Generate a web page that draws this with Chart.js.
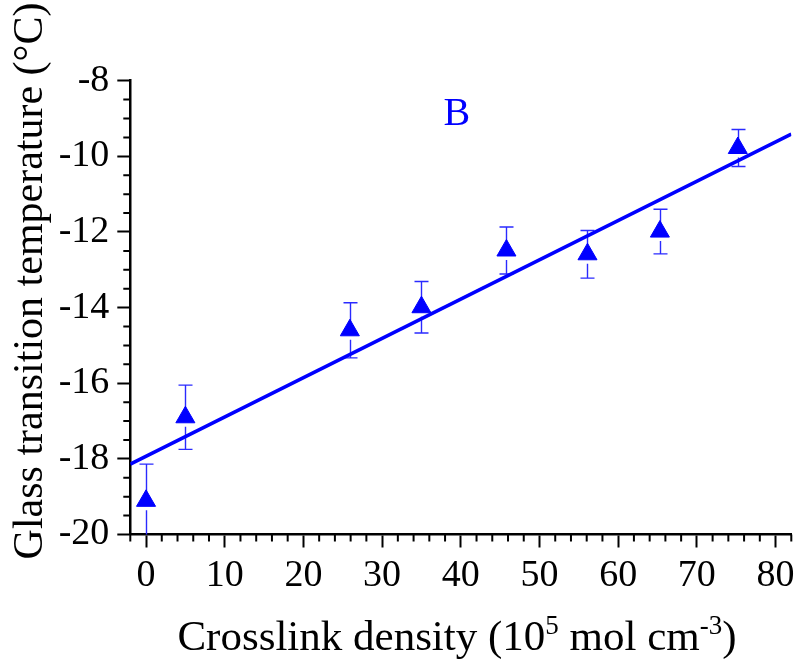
<!DOCTYPE html>
<html>
<head>
<meta charset="utf-8">
<title>Glass transition temperature vs crosslink density</title>
<script src="https://cdn.jsdelivr.net/npm/chart.js@4/dist/chart.umd.min.js"></script>
<style>
  html, body { margin: 0; padding: 0; background: #fff; }
  #tgChart { display: block; }
</style>
</head>
<body>
<canvas id="tgChart" width="797" height="662"></canvas>
<script>
// measured samples: crosslink density vs Tg, with error (+/-)
const densityX = [0, 5.0, 25.9, 35.0, 45.8, 56.1, 65.3, 75.2];
const tgY      = [-19.11, -16.90, -14.60, -13.99, -12.49, -12.59, -11.99, -9.78];
const tgErr    = [0.97, 0.85, 0.73, 0.68, 0.62, 0.63, 0.59, 0.49];

// linear fit, end points
const fitX = [-2, 82];
const fitY = [-18.14, -9.41];

// axes
const xTicks = [0, 10, 20, 30, 40, 50, 60, 70, 80];
const yTicks = [-20, -18, -16, -14, -12, -10, -8];
const xRange = [-2, 82];
const yRange = [-20, -8];

const BLUE  = "#0000ff";
const SERIF = '"Liberation Serif", "Times New Roman", serif';

/* ---------- error bars (drawn under the markers) ---------- */
const errorBars = {
  id: "errorBars",
  beforeDatasetsDraw(chart) {
    const { ctx, chartArea, scales: { x, y } } = chart;
    const r = 11, cap = 7;
    ctx.save();
    ctx.beginPath();
    ctx.rect(chartArea.left, chartArea.top, chartArea.right - chartArea.left, chartArea.bottom - chartArea.top);
    ctx.clip();
    ctx.strokeStyle = "#2a2aff";
    ctx.lineWidth = 1.4;
    densityX.forEach((dx, i) => {
      const px   = Math.round(x.getPixelForValue(dx)) + 0.5;
      const py   = y.getPixelForValue(tgY[i]);
      const top  = y.getPixelForValue(tgY[i] + tgErr[i]);
      const bot  = y.getPixelForValue(tgY[i] - tgErr[i]);
      ctx.beginPath();
      ctx.moveTo(px, top); ctx.lineTo(px, py);
      ctx.moveTo(px, py + r / 2 + 4); ctx.lineTo(px, bot);
      ctx.moveTo(px - cap, top); ctx.lineTo(px + cap, top);
      ctx.moveTo(px - cap, bot); ctx.lineTo(px + cap, bot);
      ctx.stroke();
    });
    ctx.restore();
  }
};

/* ---------- minor ticks ---------- */
const minorTicks = {
  id: "minorTicks",
  afterDraw(chart) {
    const { ctx, scales: { x, y } } = chart;
    ctx.save();
    ctx.strokeStyle = "#000";
    ctx.lineWidth = 2;
    ctx.beginPath();
    for (let v = xRange[0]; v <= xRange[1] + 1e-6; v += 2) {
      if (xTicks.includes(v)) continue;
      const px = x.getPixelForValue(v);
      ctx.moveTo(px, y.bottom); ctx.lineTo(px, y.bottom + 7);
    }
    for (let v = yRange[0]; v <= yRange[1] + 1e-6; v += 0.5) {
      if (yTicks.includes(v)) continue;
      const py = y.getPixelForValue(v);
      ctx.moveTo(x.left - 7, py); ctx.lineTo(x.left, py);
    }
    ctx.stroke();
    ctx.restore();
  }
};

/* ---------- axis titles + panel letter ---------- */
const titles = {
  id: "titles",
  afterDraw(chart) {
    const { ctx, scales: { x, y } } = chart;
    ctx.save();
    ctx.fillStyle = "#000";

    // y title, rotated
    ctx.font = `42px ${SERIF}`;
    ctx.translate(31, 281);
    ctx.rotate(-Math.PI / 2);
    ctx.textAlign = "center";
    ctx.textBaseline = "middle";
    ctx.fillText("Glass transition temperature (\u00B0C)", 0, 0);
    ctx.setTransform(1, 0, 0, 1, 0, 0);

    // x title with superscripts
    const parts = [
      { t: "Crosslink density (10", sup: false },
      { t: "5", sup: true },
      { t: " mol cm", sup: false },
      { t: "-3", sup: true },
      { t: ")", sup: false }
    ];
    const fontOf = p => p.sup ? `27px ${SERIF}` : `43px ${SERIF}`;
    let total = 0;
    parts.forEach(p => { ctx.font = fontOf(p); total += ctx.measureText(p.t).width; });
    let cx = 457 - total / 2;
    const base = 650;
    ctx.textAlign = "left";
    ctx.textBaseline = "alphabetic";
    parts.forEach(p => {
      ctx.font = fontOf(p);
      ctx.fillText(p.t, cx, p.sup ? base - 16 : base);
      cx += ctx.measureText(p.t).width;
    });

    // panel letter
    ctx.fillStyle = BLUE;
    ctx.font = `40px ${SERIF}`;
    ctx.textAlign = "center";
    ctx.textBaseline = "middle";
    ctx.fillText("B", x.getPixelForValue(39.5), y.getPixelForValue(-8.9));
    ctx.restore();
  }
};

const axisCommon = {
  type: "linear",
  grid: {
    display: true,
    drawOnChartArea: false,
    drawTicks: true,
    tickLength: 13,
    tickWidth: 2,
    tickColor: "#000"
  },
  border: { display: true, color: "#000", width: 2.5 },
  ticks: { color: "#000", font: { family: SERIF, size: 38 } }
};

new Chart(document.getElementById("tgChart"), {
  data: {
    datasets: [
      {
        type: "line",
        data: fitX.map((v, i) => ({ x: v, y: fitY[i] })),
        borderColor: BLUE,
        borderWidth: 3.6,
        pointRadius: 0,
        fill: false
      },
      {
        type: "scatter",
        data: densityX.map((v, i) => ({ x: v, y: tgY[i] })),
        pointStyle: "triangle",
        pointRadius: 11,
        backgroundColor: BLUE,
        borderColor: BLUE,
        borderWidth: 1
      }
    ]
  },
  options: {
    responsive: false,
    animation: false,
    events: [],
    layout: { autoPadding: false, padding: { top: 80.7, right: 5.7, left: 0, bottom: 0 } },
    plugins: { legend: { display: false }, tooltip: { enabled: false } },
    scales: {
      x: {
        ...axisCommon,
        position: "bottom",
        min: xRange[0],
        max: xRange[1],
        ticks: { ...axisCommon.ticks, padding: 6, maxRotation: 0 },
        afterBuildTicks: s => { s.ticks = xTicks.map(v => ({ value: v })); },
        afterFit: s => { s.height = 127.5; s.paddingLeft = 0; s.paddingRight = 0; }
      },
      y: {
        ...axisCommon,
        position: "left",
        min: yRange[0],
        max: yRange[1],
        ticks: { ...axisCommon.ticks, padding: 8 },
        afterBuildTicks: s => { s.ticks = yTicks.map(v => ({ value: v })); },
        afterFit: s => { s.width = 130.3; s.paddingTop = 0; s.paddingBottom = 0; }
      }
    }
  },
  plugins: [errorBars, minorTicks, titles]
});
</script>
</body>
</html>
